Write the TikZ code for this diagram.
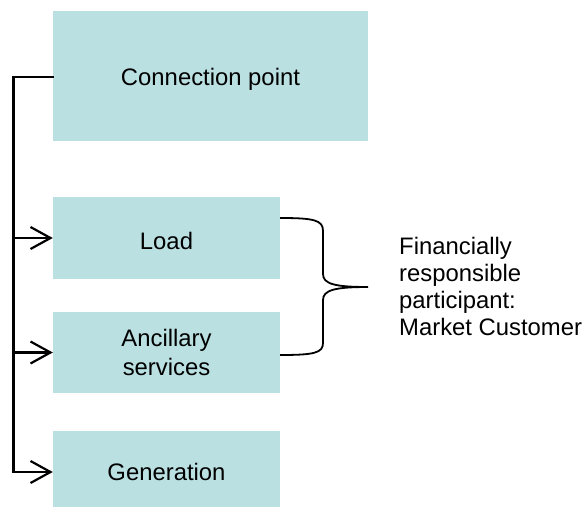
\documentclass[tikz,border=0pt]{standalone}
\usepackage{fontspec}
\setmainfont{Liberation Sans}
\usetikzlibrary{arrows.meta}
\definecolor{boxfill}{RGB}{186,224,226}
\begin{document}
\begin{tikzpicture}[x=1pt,y=-1pt,
  box/.style={fill=boxfill,draw=none,inner sep=0pt,align=center,
    font=\fontsize{23.85}{29}\selectfont},
  low/.style={text height=22.4pt,text depth=0pt},
  conn/.style={line width=2.2pt,line cap=rect},
  arr/.style={line width=2.2pt,-{Straight Barb[length=20pt,width=22pt,line width=2.2pt]}},
  brace/.style={line width=1.8pt},
  lbl/.style={align=left,inner sep=0pt,anchor=west,
    font=\fontsize{23.85}{27}\selectfont}]
\useasboundingbox (0,0) rectangle (584,507);
\node[box,text height=24pt,text depth=5pt,minimum width=315pt,minimum height=130pt] (cp) at (210.5,76) {Connection point};
\node[box,low,minimum width=227pt,minimum height=82pt] (load) at (166.5,238) {Load};
\node[box,minimum width=227pt,minimum height=81pt] (anc) at (166.5,352.5) {Ancillary\\services};
\node[box,low,minimum width=227pt,minimum height=76pt] (gen) at (166.5,469) {Generation};
\node[lbl] (fin) at (399,286) {Financially\\responsible\\participant:\\Market Customer};
\coordinate (tTop) at (13.5,77);
\coordinate (tBot) at (13.5,472);
\draw[conn] (tTop -| cp.west) -- (tTop) -- (tBot);
\draw[arr] (tTop |- load.west) -- (load.west);
\draw[arr] (tTop |- anc.west) -- (anc.west);
\draw[arr] (tBot) -- (tBot -| gen.west);
\coordinate (bTop) at (280,218);
\coordinate (bBot) at (280,355);
\coordinate (bTip) at (368,287);
\draw[brace] (bTop) .. controls (314,218) and (323,220) .. (323,231) -- (323,274)
  .. controls (323,284) and (335,287) .. (bTip)
  .. controls (335,287) and (323,290) .. (323,300) -- (323,343)
  .. controls (323,353) and (314,355) .. (bBot);
\end{tikzpicture}
\end{document}
